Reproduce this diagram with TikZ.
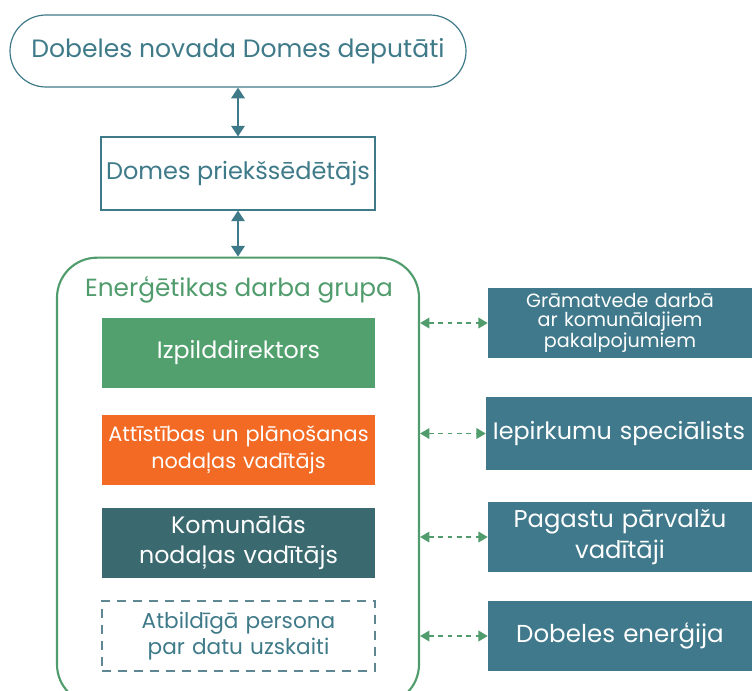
\documentclass[tikz,border=0pt]{standalone}
\usepackage{fontspec}
\setmainfont{Poppins}
\usetikzlibrary{arrows.meta,positioning}
\definecolor{tealline}{HTML}{3F7A89}
\definecolor{grpgreen}{HTML}{509C6C}
\definecolor{rolegreen}{HTML}{52A06E}
\definecolor{roleorange}{HTML}{F26A23}
\definecolor{roledark}{HTML}{3A6A70}
\definecolor{partnerteal}{HTML}{3F798B}
\definecolor{dashgrey}{HTML}{5F8791}
\tikzset{
  pxgrid/.style={x=0.75pt,y=-0.75pt},
  topbox/.style={
    rectangle, rounded corners=27pt, draw=tealline, line width=0.9pt,
    text=tealline, minimum width=342pt, minimum height=54pt,
    font=\fontsize{18.8}{22}\selectfont
  },
  chairbox/.style={
    rectangle, draw=tealline, line width=0.8pt, fill=white,
    text=tealline, minimum width=205.5pt, minimum height=54.75pt,
    font=\fontsize{18}{21}\selectfont
  },
  groupframe/.style={
    rectangle, rounded corners=30pt, draw=grpgreen, line width=1.6pt,
    minimum width=271.5pt, minimum height=335pt
  },
  rolebox/.style={
    rectangle, fill=#1, text=white, minimum width=204.75pt,
    minimum height=52.5pt, text width=204pt, align=center, inner sep=0pt,
    font=\fontsize{17.8}{22.5}\selectfont
  },
  dutybox/.style={
    rectangle, draw=dashgrey, line width=0.8pt, dash pattern=on 7pt off 5pt,
    text=tealline, minimum width=204.75pt, minimum height=52.5pt,
    text width=204pt, align=center, inner sep=0pt,
    font=\fontsize{16.2}{20}\selectfont
  },
  partnerbox/.style={
    rectangle, fill=partnerteal, text=white, minimum width=198pt,
    minimum height=52.5pt, text width=198pt, align=center, inner sep=0pt,
    font=\fontsize{18.2}{23}\selectfont
  },
  linkarrow/.style={
    {Triangle[length=8pt,width=10pt]}-{Triangle[length=8pt,width=10pt]},
    line width=1.6pt, color=tealline
  },
  dasharrow/.style={
    {Triangle[length=7pt,width=8pt]}-{Triangle[length=7pt,width=8pt]},
    line width=1.1pt, dash pattern=on 3.5pt off 3.5pt, color=grpgreen
  },
}

\begin{document}
\begin{tikzpicture}[pxgrid]
  \clip (0,0) rectangle (752,690);

  % top of the chain
  \node[topbox] (council) at (238,51) {Dobeles novada Domes deputāti};
  \node[chairbox] (chair) at (238,173.5) {Domes priekšsēdētājs};

  % energy working group
  \node[groupframe] (group) at (238,481) {};
  \node[font=\fontsize{18.6}{22}\selectfont, text=grpgreen] (grouptitle) at (239,290)
    {Enerģētikas darba grupa};
  \node[rolebox=rolegreen] (director) at (238.5,353) {Izpilddirektors};
  \node[rolebox=roleorange, font=\fontsize{15.6}{20.5}\selectfont] (planning) at (238.5,450)
    {Attīstības un plānošanas\\nodaļas vadītājs};
  \node[rolebox=roledark] (communal) at (238.5,543)
    {Komunālās\\nodaļas vadītājs};
  \node[dutybox] (datakeeper) at (238.5,636)
    {Atbildīgā persona\\par datu uzskaiti};

  % partners on the right
  \node[partnerbox, font=\fontsize{14.4}{14}\selectfont] (accountant) at (620,323)
    {Grāmatvede darbā\\ar komunālajiem\\pakalpojumiem};
  \node[partnerbox, minimum width=199.5pt, minimum height=54.75pt,
    font=\fontsize{17.9}{21}\selectfont] (buyer) at (619,433.5) {Iepirkumu speciālists};
  \node[partnerbox] (parishes) at (620,537) {Pagastu pārvalžu\\vadītāji};
  \node[partnerbox, font=\fontsize{18.4}{22}\selectfont] (utility) at (620,636)
    {Dobeles enerģija};

  \draw[linkarrow] (council.south) -- (chair.north);
  \draw[linkarrow] (chair.south) -- (group.north);

  \foreach \p in {accountant,buyer,parishes,utility}
    \draw[dasharrow] (group.east |- \p.west) -- (\p.west);
\end{tikzpicture}
\end{document}
